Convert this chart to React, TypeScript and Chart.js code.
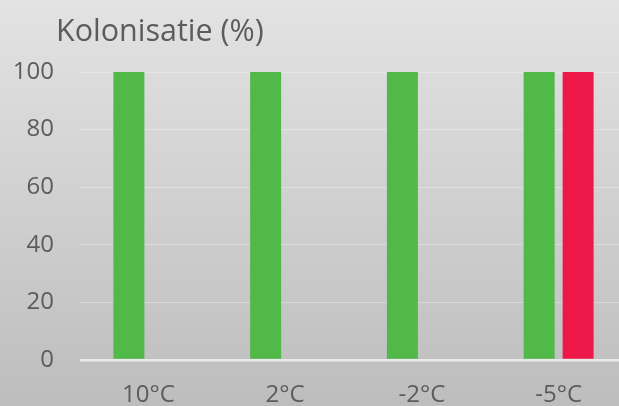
import React, { useEffect, useRef } from "react";
import { Chart, registerables } from "chart.js";

Chart.register(...registerables);

const categories = ["10°C", "2°C", "-2°C", "-5°C"];
const greenValues = [100, 100, 100, 100];
const redValues = [0, 0, 0, 100];
const yTicks = [0, 20, 40, 60, 80, 100];
const titleText = "Kolonisatie (%)";

const FONT = "'Open Sans', sans-serif";
const TEXT = "#5c5c5c";

export default function App() {
  const ref = useRef<HTMLCanvasElement | null>(null);
  useEffect(() => {
    document.body.style.margin = "0";
    const titlePlugin = {
      id: "customTitle",
      afterDraw(chart: any) {
        const c = chart.ctx;
        c.save();
        c.font = `400 30.5px ${FONT}`;
        c.fillStyle = TEXT;
        c.textAlign = "left";
        c.textBaseline = "alphabetic";
        c.fillText(titleText, 56, 41);
        c.restore();
      },
    };
    const chart = new Chart(ref.current!, {
      type: "bar",
      data: {
        labels: categories,
        datasets: [
          { data: greenValues, backgroundColor: "#50b948", categoryPercentage: 0.57, barPercentage: 0.795 },
          { data: redValues, backgroundColor: "#ee1848", categoryPercentage: 0.57, barPercentage: 0.795 },
        ],
      },
      options: {
        animation: false,
        responsive: false,
        layout: { padding: { top: 72, right: 0, left: 0, bottom: 0 } },
        plugins: { legend: { display: false }, tooltip: { enabled: false } },
        scales: {
          x: {
            grid: { display: false },
            border: { display: false },
            ticks: { color: TEXT, font: { family: FONT, size: 24, weight: 400 }, padding: 13, maxRotation: 0 },
            afterFit(scale: any) { scale.height = 46; },
          },
          y: {
            min: 0,
            max: 100,
            afterBuildTicks(scale: any) { scale.ticks = yTicks.map((v) => ({ value: v })); },
            border: { display: false },
            grid: {
              drawTicks: false,
              color: (ctx: any) => (ctx.tick && ctx.tick.value === 0 ? "rgba(255,255,255,0.65)" : "rgba(255,255,255,0.3)"),
              lineWidth: (ctx: any) => (ctx.tick && ctx.tick.value === 0 ? 2.5 : 1),
            },
            ticks: { color: TEXT, font: { family: FONT, size: 24, weight: 400 }, padding: 26 },
            afterFit(scale: any) { scale.width = 80; },
          },
        },
      },
      plugins: [titlePlugin],
    });
    return () => chart.destroy();
  }, []);
  return (
    <div
      style={{
        position: "fixed",
        left: 0,
        top: 0,
        width: 619,
        height: 406,
        overflow: "hidden",
        background: "linear-gradient(#e3e3e3, #bdbdbd)",
      }}
    >
      <canvas ref={ref} width={627} height={406} style={{ display: "block", width: 627, height: 406 }} />
    </div>
  );
}
